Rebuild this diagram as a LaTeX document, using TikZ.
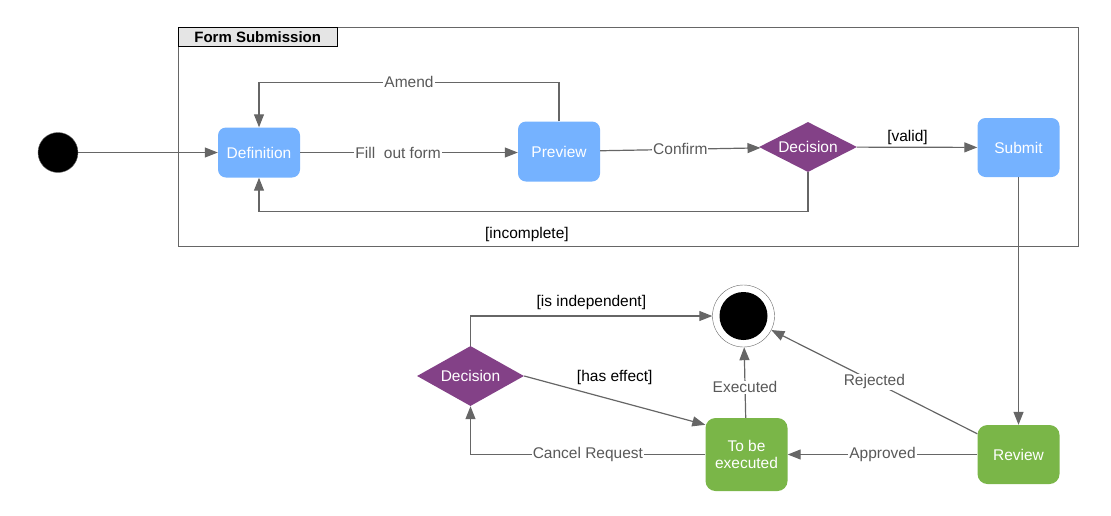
\documentclass[tikz,border=0pt]{standalone}
\usepackage{fontspec}
\setmainfont{Liberation Sans}
\usepackage{tikz}
\usetikzlibrary{positioning, arrows.meta, shapes.geometric}
\definecolor{stateBlue}{RGB}{117, 178, 255}
\definecolor{stateGreen}{RGB}{122, 182, 72}
\definecolor{choicePurple}{RGB}{131, 65, 135}
\definecolor{lineGray}{RGB}{102, 102, 102}
\definecolor{textGray}{RGB}{89, 89, 89}
\definecolor{titleGray}{RGB}{229, 229, 229}

\begin{document}
\begin{tikzpicture}[x=1pt, y=-1pt, font=\fontsize{15.5}{17.5}\selectfont,
  bluestate/.style={rectangle, rounded corners=8pt, fill=stateBlue, text=white,
    minimum width=82pt, inner sep=0pt},
  greenstate/.style={rectangle, rounded corners=10pt, fill=stateGreen, text=white,
    minimum width=82pt, inner sep=0pt, align=center},
  choice/.style={diamond, aspect=2, fill=choicePurple, text=white, inner sep=0pt},
  flow/.style={draw=lineGray, line width=1.2pt, -{Triangle[length=13pt, width=10pt]}},
  lbl/.style={fill=white, text=textGray, inner sep=1pt},
  guard/.style={text=black, inner sep=1pt}]
  \useasboundingbox (0,0) rectangle (1111,515);

  % frame
  \draw[lineGray, line width=1pt] (178,27) rectangle (1078,246);
  \node[draw=black, fill=titleGray, anchor=north west, minimum width=159pt,
    minimum height=19pt, inner sep=0pt, font=\fontsize{15}{17}\selectfont\bfseries]
    (title) at (178,27) {Form Submission};

  % states
  \node[circle, fill=black, draw=lineGray, minimum size=40pt, inner sep=0pt] (start) at (58,152.5) {};
  \node[bluestate, minimum height=50pt] (definition) at (259,152.5) {Definition};
  \node[bluestate, minimum height=60pt] (preview) at (559,151.5) {Preview};
  \node[choice, minimum width=98pt, minimum height=50pt] (decision) at (808,147) {Decision};
  \node[bluestate, minimum height=59pt] (submit) at (1018.5,147.5) {Submit};
  \node[greenstate, minimum height=59pt] (review) at (1018.5,454.5) {Review};
  \node[greenstate, minimum height=73pt] (pending) at (746.5,454.5) {To be\\executed};
  \node[choice, minimum width=107pt, minimum height=60pt] (cancel) at (470.5,376) {Decision};
  \node[circle, draw=lineGray, fill=white, minimum size=62pt, inner sep=0pt] (final) at (743.5,316) {};
  \node[circle, fill=black, minimum size=48pt, inner sep=0pt] (finalDot) at (final.center) {};

  % form submission
  \draw[flow] (start) -- (definition);
  \draw[flow] (definition.east) -- node[lbl, pos=0.45] {Fill\ \ out form} (definition.east -| preview.west);
  \draw[flow] (preview.north) -- ++(0,-39) -| node[lbl, pos=0.25] {Amend} (definition.north);
  \draw[flow] (preview) -- node[lbl] {Confirm} (decision);
  \draw[flow] (decision) -- node[guard, pos=0.42, yshift=10pt] {[valid]} (submit);
  \draw[flow] (decision.south) -- ++(0,39) -| node[guard, pos=0.256, yshift=-23pt] {[incomplete]} (definition.south);

  % review
  \draw[flow] (submit) -- (review);
  \draw[flow] (review) -- node[lbl] {Approved} (pending);
  \draw[flow] (review) -- node[lbl] {Rejected} (final);
  \draw[flow] (pending) -- node[lbl, pos=0.43] {Executed} (final);
  \draw[flow] (pending.west) -| node[lbl, pos=0.25] {Cancel Request} (cancel.south);
  \draw[flow] (cancel.east) -- node[guard, midway, yshift=23pt] {[has effect]} ([yshift=-7pt]pending.north west);
  \draw[flow] (cancel.north) |- node[guard, pos=0.75, yshift=14pt] {[is independent]} (final);
\end{tikzpicture}
\end{document}
